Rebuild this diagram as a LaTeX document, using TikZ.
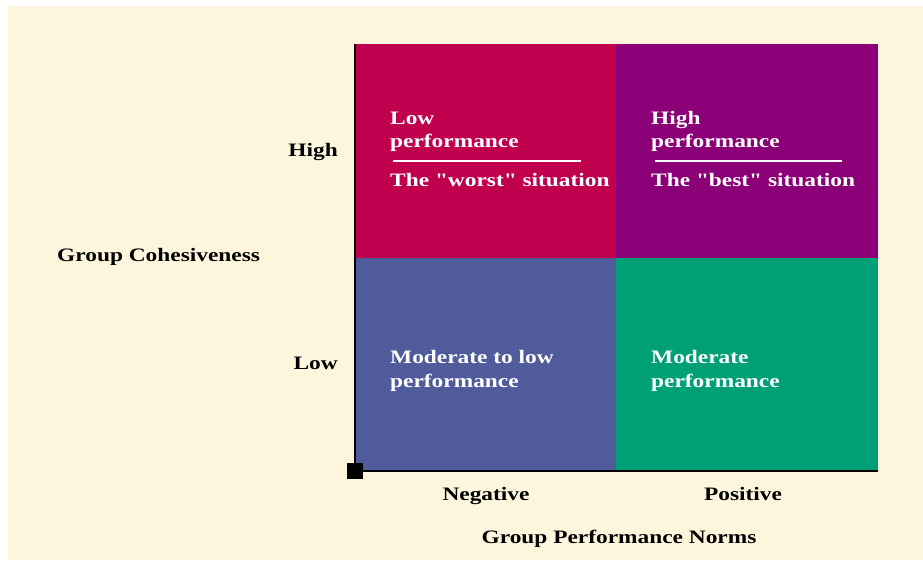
\documentclass[tikz,border=0pt]{standalone}
\usepackage{fontspec}
\setmainfont{Liberation Serif}[FakeStretch=1.23, Ligatures=TeXOff]
\definecolor{cream}{HTML}{FEF6DC}
\definecolor{qred}{HTML}{C0004F}
\definecolor{qpurple}{HTML}{8B0076}
\definecolor{qblue}{HTML}{4F5B9B}
\definecolor{qgreen}{HTML}{00A077}
\tikzset{
  intext/.style={anchor=base west, inner sep=0, text=white, font=\fontsize{19}{23}\selectfont\bfseries, align=left},
  axtext/.style={inner sep=0, text=black, font=\fontsize{19}{23}\selectfont\bfseries},
  rule/.style={white, line width=2.5pt},
}
\begin{document}
\begin{tikzpicture}[x=1pt,y=-1pt]
\useasboundingbox (0,0) rectangle (923,560);
\fill[white] (0,0) rectangle (923,560);
\fill[cream] (8,6) rectangle (923,560);
% cells
\fill[qred] (355,44) rectangle (616,258);
\fill[qpurple] (616,44) rectangle (878,258);
\fill[qblue] (355,258) rectangle (616,470);
\fill[qgreen] (616,258) rectangle (878,470);
% axes
\coordinate (o) at (355,471);
\coordinate (ytop) at (355,44);
\coordinate (xend) at (878,471);
\draw[black, line width=2.5pt] (ytop) -- (o) -- (xend);
\node[fill=black, minimum size=16pt, inner sep=0] (sqr) at (o) {};
% cell text
\node[intext] (t1) at (390,124) {Low};
\node[intext] (t2) at (390,147) {performance};
\coordinate (r1a) at (393,161);
\coordinate (r1b) at (581,161);
\draw[rule] (r1a) -- (r1b);
\node[intext] (t3) at (390,186) {The "worst" situation};
\node[intext] (t4) at (651,124) {High};
\node[intext] (t5) at (651,147) {performance};
\coordinate (r2a) at (655,161);
\coordinate (r2b) at (842,161);
\draw[rule] (r2a) -- (r2b);
\node[intext] (t6) at (651,186) {The "best" situation};
\node[intext] (t7) at (390,363) {Moderate to low};
\node[intext] (t8) at (390,387) {performance};
\node[intext] (t9) at (651,363) {Moderate};
\node[intext] (t10) at (651,387) {performance};
% axis labels
\node[axtext, anchor=base east] (hi) at (338,156) {High};
\node[axtext, anchor=base east] (lo) at (338,369) {Low};
\node[axtext, anchor=base west] (gc) at (57,261) {Group Cohesiveness};
\node[axtext, anchor=base] (neg) at (486,500) {Negative};
\node[axtext, anchor=base] (pos) at (743,500) {Positive};
\node[axtext, anchor=base] (gpn) at (619,543) {Group Performance Norms};
\end{tikzpicture}
\end{document}
